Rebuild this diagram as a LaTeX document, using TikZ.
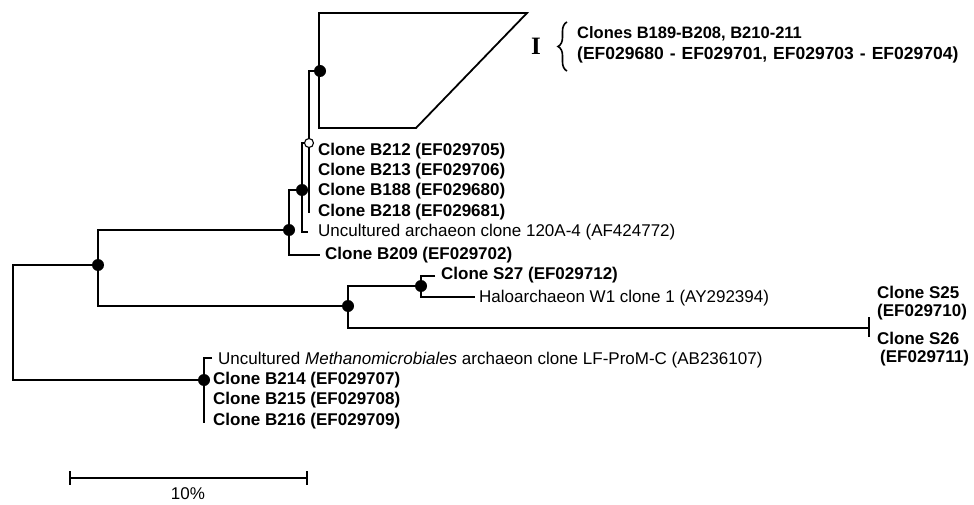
\documentclass[tikz,border=0pt]{standalone}
\usepackage{fontspec}
\setmainfont{Liberation Sans}
\newfontfamily\serifbold{Liberation Serif}
\usetikzlibrary{decorations.pathreplacing}
\begin{document}
\begin{tikzpicture}[x=1pt,y=-1pt,
  br/.style={line width=1.8pt},
  thin/.style={line width=1.1pt},
  dot/.style={circle,fill=black,inner sep=0pt,minimum size=12pt},
  odot/.style={circle,draw=black,fill=white,line width=1.1pt,inner sep=0pt,minimum size=9pt},
  lab/.style={anchor=west,inner sep=0pt,font=\fontsize{17}{20}\selectfont\bfseries},
  rlab/.style={anchor=west,inner sep=0pt,font=\fontsize{17}{20}\selectfont},
  clab/.style={anchor=west,inner sep=0pt,font=\bfseries}]
\useasboundingbox (0,0) rectangle (974,505);
% coordinates
\coordinate (r1) at (13,265);
\coordinate (r2) at (13,380);
\coordinate (n1) at (98,265);
\coordinate (n2) at (289,230);
\coordinate (n3) at (348,306);
\coordinate (n4) at (302,190);
\coordinate (n5) at (309,143);
\coordinate (n6) at (320,71);
\coordinate (n7) at (421,286);
\coordinate (n8) at (204,380);
\coordinate (b218) at (309,213);
\coordinate (e209) at (320,255);
\coordinate (eua) at (308,232);
\coordinate (es27) at (435,276);
\coordinate (ehalo) at (475,297);
\coordinate (es25) at (869,328);
\coordinate (t1) at (869,317);
\coordinate (t2) at (869,337);
\coordinate (em) at (212,358);
\coordinate (m1) at (204,358);
\coordinate (m2) at (204,423);
% root
\draw[br] (n1) -- (r1) -- (r2) -- (n8);
\draw[br] (n2) -| (n1) |- (n3);
\draw[br] (n4) -| (n2) |- (e209);
\draw[br] (n5) -| (n4);
\draw[thin] (n4) |- (eua);
\draw[br] (n6) -| (n5) -- (b218);
\draw[br] (n7) -| (n3) |- (es25);
\draw[br] (t1) -- (t2);
\draw[br] (es27) -| (n7);
\draw[thin] (n7) |- (ehalo);
\draw[thin] (em) -- (m1) -- (n8);
\draw[br] (n8) -- (m2);
% collapsed clade
\draw[br,line join=miter] (319,13) -- (527,13) -- (416,128) -- (319,128) -- cycle;
% dots
\node[dot] at (n1) {};
\node[dot] at (n2) {};
\node[dot] at (n3) {};
\node[dot] at (n4) {};
\node[odot] at (n5) {};
\node[dot] at (n6) {};
\node[dot] at (n7) {};
\node[dot] at (n8) {};
% labels
\node[lab] (l212) at (318,151) {Clone B212 (EF029705)};
\node[lab] (l213) at (318,171) {Clone B213 (EF029706)};
\node[lab] (l188) at (318,191) {Clone B188 (EF029680)};
\node[lab] (l218) at (318,212) {Clone B218 (EF029681)};
\node[rlab] (lua) at (318,232) {Uncultured archaeon clone 120A-4 (AF424772)};
\node[lab] (l209) at (325,255) {Clone B209 (EF029702)};
\node[lab] (ls27) at (441,275) {Clone S27 (EF029712)};
\node[rlab] (lhalo) at (479,298) {Haloarchaeon W1 clone 1 (AY292394)};
\node[lab] (ls25) at (877,292) {Clone S25};
\node[lab] (ls25b) at (877,312) {(EF029710)};
\node[lab] (ls26) at (877,338) {Clone S26};
\node[lab] (ls26b) at (880,358) {(EF029711)};
\node[rlab] (lm) at (218,360) {Uncultured \textit{Methanomicrobiales} archaeon clone LF-ProM-C (AB236107)};
\node[lab] (l214) at (213,380) {Clone B214 (EF029707)};
\node[lab] (l215) at (213,400) {Clone B215 (EF029708)};
\node[lab] (l216) at (213,421) {Clone B216 (EF029709)};
% clade I
\node[inner sep=0pt,font=\fontsize{25}{25}\serifbold\bfseries] (cI) at (536,46) {I};
\draw[line width=1.6pt,decorate,decoration={brace,amplitude=9pt}] (567,71) -- (567,22);
\node[clab,font=\fontsize{16.5}{20}\selectfont\bfseries] (ct1) at (577,34) {Clones B189-B208, B210-211};
\node[clab,font=\fontsize{17.5}{20}\selectfont\bfseries] (ct2) at (577,55) {\spaceskip=6pt\relax(EF029680 - EF029701, EF029703 - EF029704)};
% scale bar
\coordinate (s1) at (70,478);
\coordinate (s2) at (307,478);
\draw[br] (s1) -- (s2);
\draw[br] (70,471) -- (70,485);
\draw[br] (307,471) -- (307,485);
\node[rlab,anchor=center] (sc) at (188,494) {10\%};
\end{tikzpicture}
\end{document}
